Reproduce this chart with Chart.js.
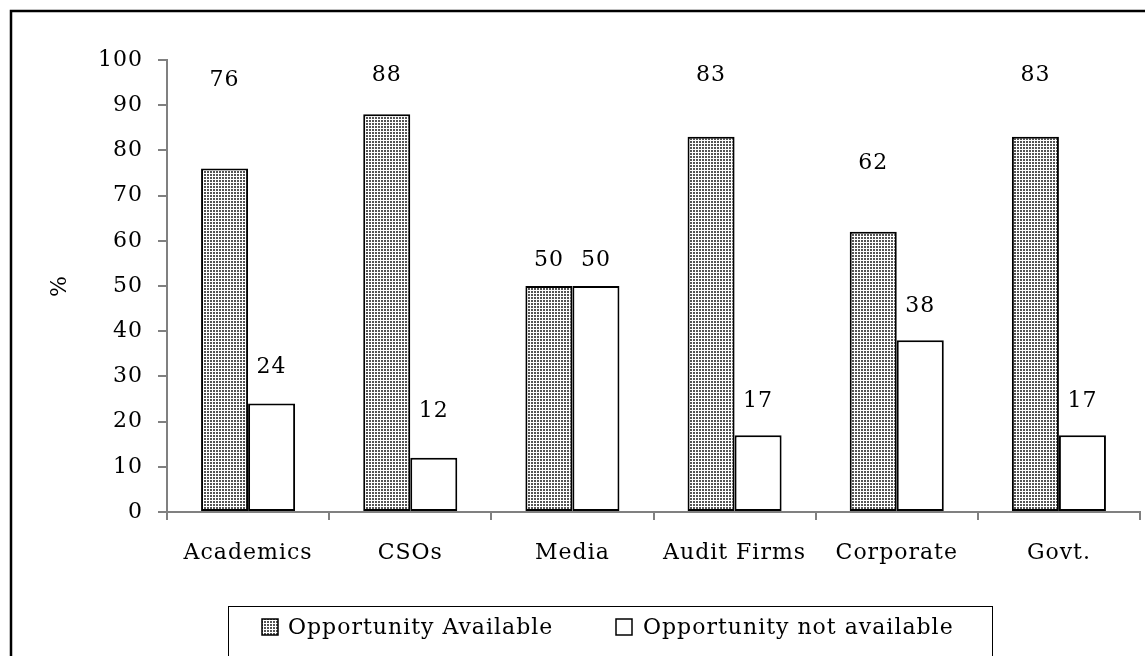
<!DOCTYPE html>
<html>
<head>
<meta charset="utf-8">
<script src="https://cdn.jsdelivr.net/npm/chart.js@4.4.1/dist/chart.umd.min.js"></script>
<style>
  html, body { margin: 0; background: #fff; }
  canvas { display: block; }
</style>
</head>
<body>
<canvas id="chart" width="1145" height="656"></canvas>
<script>
// data
const categories = ['Academics', 'CSOs', 'Media', 'Audit Firms', 'Corporate', 'Govt.'];
const availableValues = [76, 88, 50, 83, 62, 83];
const notAvailableValues = [24, 12, 50, 17, 38, 17];
const seriesNames = ['Opportunity Available', 'Opportunity not available'];
const yTickValues = [0, 10, 20, 30, 40, 50, 60, 70, 80, 90, 100];

// styling: how far (px) each value label sits above its bar, as in the source
const labelLift = [
  [88, 39, 26, 62, 68, 62],
  [36, 46, 26, 34, 34, 34]
];
const axisGrey = '#808080';
const fontFamily = 'DejaVu Serif';

function dotPattern() {
  const tile = document.createElement('canvas');
  tile.width = 3;
  tile.height = 3;
  const t = tile.getContext('2d');
  t.fillStyle = '#ffffff';
  t.fillRect(0, 0, 3, 3);
  t.fillStyle = '#555555';
  t.fillRect(0, 0, 2, 2);
  return document.getElementById('chart').getContext('2d').createPattern(tile, 'repeat');
}

const pattern = dotPattern();
const fills = [pattern, '#ffffff'];

const paperPlugin = {
  id: 'paper',
  beforeLayout(chart) {
    chart.ctx.letterSpacing = '1px';
  },
  beforeDraw(chart) {
    chart.ctx.letterSpacing = '1px';
  },
  afterDatasetsDraw(chart) {
    const { ctx } = chart;
    ctx.save();
    ctx.font = `22px "${fontFamily}"`;
    ctx.fillStyle = '#000';
    ctx.textAlign = 'center';
    ctx.textBaseline = 'middle';
    chart.data.datasets.forEach((ds, di) => {
      chart.getDatasetMeta(di).data.forEach((bar, i) => {
        ctx.fillText(String(ds.data[i]), bar.x, bar.y - labelLift[di][i]);
      });
    });
    ctx.restore();
  },
  afterDraw(chart) {
    const { ctx } = chart;
    ctx.save();
    // outer frame
    ctx.strokeStyle = '#000';
    ctx.lineWidth = 2.5;
    ctx.strokeRect(11, 11, 1200, 700);
    // legend box
    ctx.lineWidth = 1;
    ctx.strokeRect(228.5, 606.5, 764, 60);
    ctx.font = `22px "${fontFamily}"`;
    ctx.fillStyle = '#000';
    ctx.textBaseline = 'middle';
    const items = [
      { swatch: 262, text: 288 },
      { swatch: 616, text: 643 }
    ];
    items.forEach((item, i) => {
      ctx.fillStyle = fills[i];
      ctx.fillRect(item.swatch, 619, 16, 16);
      ctx.lineWidth = 1.5;
      ctx.strokeRect(item.swatch, 619, 16, 16);
      ctx.fillStyle = '#000';
      ctx.fillText(seriesNames[i], item.text, 628);
    });
    ctx.restore();
  }
};

Chart.defaults.font.family = fontFamily;
Chart.defaults.font.size = 22;
Chart.defaults.color = '#000';

new Chart(document.getElementById('chart'), {
  type: 'bar',
  data: {
    labels: categories,
    datasets: [
      {
        label: seriesNames[0],
        data: availableValues,
        backgroundColor: fills[0],
        borderColor: '#000',
        borderWidth: 2,
        borderSkipped: false
      },
      {
        label: seriesNames[1],
        data: notAvailableValues,
        backgroundColor: fills[1],
        borderColor: '#000',
        borderWidth: 2,
        borderSkipped: false
      }
    ]
  },
  options: {
    responsive: false,
    animation: false,
    events: [],
    layout: { padding: { top: 60, right: 5, bottom: 0, left: 43 } },
    datasets: { bar: { categoryPercentage: 0.58, barPercentage: 1 } },
    plugins: {
      legend: { display: false },
      tooltip: { enabled: false }
    },
    scales: {
      x: {
        grid: {
          offset: true,
          drawOnChartArea: false,
          color: axisGrey,
          lineWidth: 2,
          tickLength: 8
        },
        border: { color: axisGrey, width: 2 },
        ticks: { padding: 20, maxRotation: 0 },
        afterFit: (scale) => { scale.height = 144; }
      },
      y: {
        min: 0,
        max: 100,
        afterBuildTicks: (scale) => {
          scale.ticks = yTickValues.map((value) => ({ value }));
        },
        grid: {
          drawOnChartArea: false,
          color: axisGrey,
          lineWidth: 2,
          tickLength: 9
        },
        border: { color: axisGrey, width: 2 },
        ticks: { padding: 15 },
        title: { display: true, text: '%', padding: 4, font: { size: 22 } },
        afterFit: (scale) => { scale.width = 124; }
      }
    }
  },
  plugins: [paperPlugin]
});
</script>
</body>
</html>
